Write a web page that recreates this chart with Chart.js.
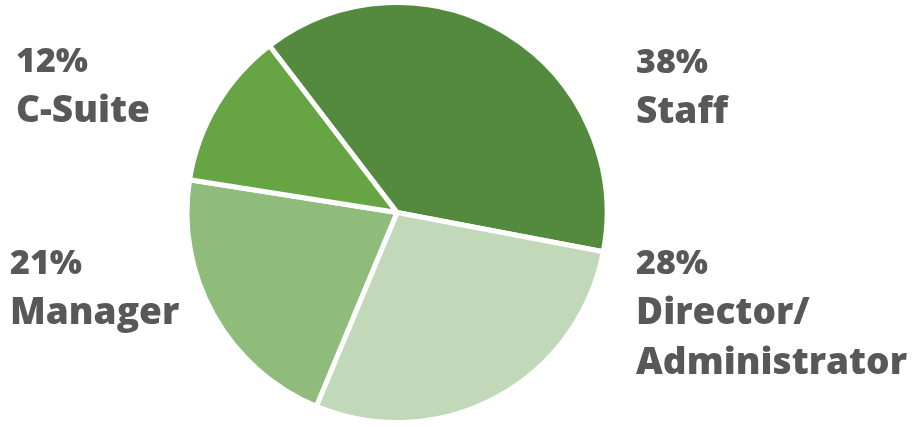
<!DOCTYPE html>
<html>
<head>
<meta charset="utf-8">
<script src="https://cdn.jsdelivr.net/npm/chart.js@4"></script>
<style>
  html, body { margin: 0; padding: 0; background: #fff; }
  #wrap { width: 923px; height: 427px; position: relative; }
</style>
</head>
<body>
<div id="wrap"><canvas id="pie"></canvas></div>
<script>
const labels = ["Staff", "Director/\nAdministrator", "Manager", "C-Suite"];
const values = [38, 28, 21, 12];
const colors = ["#548a3e", "#c1d9b8", "#8fbb7b", "#67a444"];

// where each label block sits (left x, baseline of the % line)
const labelSpots = [
    { x: 636, y: 73 },
    { x: 636, y: 274 },
    { x: 10, y: 274 },
    { x: 16, y: 72 },
];

const sideLabels = {
    id: "sideLabels",
    afterDraw(chart) {
        const ctx = chart.ctx;
        ctx.save();
        ctx.fillStyle = "#58585b";
        ctx.textAlign = "left";
        ctx.textBaseline = "alphabetic";
        labels.forEach((lab, i) => {
            const spot = labelSpots[i];
            ctx.font = "800 34px 'Open Sans'";
            ctx.fillText(values[i] + "%", spot.x, spot.y);
            ctx.font = "800 37px 'Open Sans'";
            lab.split("\n").forEach((line, j) => {
                ctx.fillText(line, spot.x, spot.y + 50 + j * 50);
            });
        });
        ctx.restore();
    }
};

new Chart(document.getElementById("pie"), {
    type: "pie",
    data: {
        labels: labels,
        datasets: [{
            data: values,
            backgroundColor: colors,
            borderColor: "#ffffff",
            borderWidth: 5,
        }],
    },
    options: {
        responsive: true,
        maintainAspectRatio: false,
        animation: false,
        rotation: -37.4,
        layout: { padding: { left: 184, right: 313, top: 0, bottom: 2 } },
        plugins: {
            legend: { display: false },
            tooltip: { enabled: false },
        },
    },
    plugins: [sideLabels],
});
</script>
</body>
</html>
